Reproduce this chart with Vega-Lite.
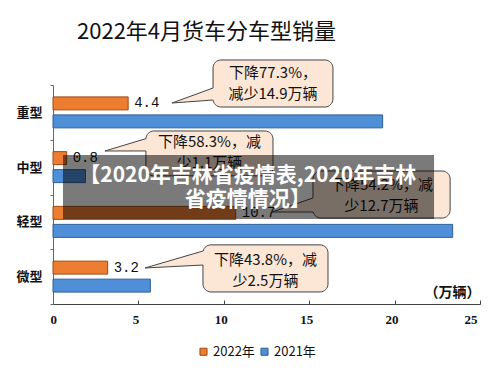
{
  "$schema": "https://vega.github.io/schema/vega-lite/v6.json",
  "autosize": "none",
  "width": 427,
  "height": 219,
  "padding": {"left": 53, "top": 85, "right": 20, "bottom": 70},
  "background": "white",
  "title": {"text": "2022年4月货车分车型销量", "anchor": "start", "frame": "group", "dx": 24, "offset": 15, "font": "Noto Sans CJK SC", "fontSize": 22, "fontWeight": "normal", "color": "#111"},
  "datasets": {
    "bars": [
      {"cat": "重型", "year": "2022年", "value": 4.4},
      {"cat": "重型", "year": "2021年", "value": 19.3},
      {"cat": "中型", "year": "2022年", "value": 0.8},
      {"cat": "中型", "year": "2021年", "value": 1.9},
      {"cat": "轻型", "year": "2022年", "value": 10.7},
      {"cat": "轻型", "year": "2021年", "value": 23.4},
      {"cat": "微型", "year": "2022年", "value": 3.2},
      {"cat": "微型", "year": "2021年", "value": 5.7}
    ],
    "bubbles": [
      {"id": 1, "x1": 9.37, "x2": 16.39, "y1": -0.457, "y2": 0.402, "tx": 12.88, "ty": -0.219, "label": "下降77.3%，\n减少14.9万辆"},
      {"id": 2, "x1": 5.44, "x2": 12.88, "y1": 0.84, "y2": 1.66, "tx": 9.16, "ty": 1.041, "label": "下降58.3%，减\n少1.1万辆"},
      {"id": 3, "x1": 15.22, "x2": 23.25, "y1": 1.571, "y2": 2.43, "tx": 19.23, "ty": 1.826, "label": "下降54.2%，减\n少12.7万辆"},
      {"id": 4, "x1": 8.78, "x2": 16.10, "y1": 2.92, "y2": 3.78, "tx": 12.44, "ty": 3.196, "label": "下降43.8%，减\n少2.5万辆"}
    ],
    "wedges": [
      {"id": 1, "x": 6.97, "ya": 0.329, "yb": 0.329},
      {"id": 1, "x": 9.37, "ya": 0.055, "yb": 0.274},
      {"id": 1, "x": 9.52, "ya": 0.055, "yb": 0.274},
      {"id": 2, "x": 3.04, "ya": 1.205, "yb": 1.205},
      {"id": 2, "x": 5.44, "ya": 0.98, "yb": 1.205},
      {"id": 2, "x": 5.59, "ya": 0.98, "yb": 1.205},
      {"id": 3, "x": 12.82, "ya": 2.32, "yb": 2.32},
      {"id": 3, "x": 15.22, "ya": 2.064, "yb": 2.32},
      {"id": 3, "x": 15.37, "ya": 2.064, "yb": 2.32},
      {"id": 4, "x": 5.39, "ya": 3.342, "yb": 3.342},
      {"id": 4, "x": 8.78, "ya": 3.032, "yb": 3.288},
      {"id": 4, "x": 8.93, "ya": 3.032, "yb": 3.288}
    ],
    "pointers": [
      {"x1": 6.97, "y1": 0.329, "x2": 9.37, "y2": 0.055},
      {"x1": 6.97, "y1": 0.329, "x2": 9.37, "y2": 0.274},
      {"x1": 3.04, "y1": 1.205, "x2": 5.44, "y2": 0.98},
      {"x1": 3.04, "y1": 1.205, "x2": 5.44, "y2": 1.205},
      {"x1": 12.82, "y1": 2.32, "x2": 15.22, "y2": 2.064},
      {"x1": 12.82, "y1": 2.32, "x2": 15.22, "y2": 2.32},
      {"x1": 5.39, "y1": 3.342, "x2": 8.78, "y2": 3.032},
      {"x1": 5.39, "y1": 3.342, "x2": 8.78, "y2": 3.288}
    ],
    "banner": [
      {"x1": 0.585, "x2": 22.31, "y1": 1.279, "y2": 2.447, "tx": 11.4, "ty": 1.66, "label": "【2020年吉林省疫情表,2020年吉林\n省疫情情况】"}
    ],
    "unit": [
      {"x": 23.39, "y": 3.8, "label": "（万辆）"}
    ]
  },
  "resolve": {"scale": {"y": "independent"}},
  "layer": [
    {
      "data": {"name": "bars"},
      "mark": {"type": "bar", "strokeWidth": 1},
      "encoding": {
        "y": {"field": "cat", "type": "nominal", "sort": ["重型", "中型", "轻型", "微型"], "scale": {"paddingInner": 0, "paddingOuter": 0},
          "axis": {"title": null, "tickBand": "extent", "labelFont": "Noto Sans CJK SC", "labelFontWeight": "bold", "labelFontSize": 13, "labelColor": "#111", "labelPadding": 8, "tickSize": 3, "domainColor": "#666", "tickColor": "#666"}},
        "yOffset": {"field": "year", "type": "nominal", "sort": ["2022年", "2021年"], "scale": {"paddingInner": 0.278, "paddingOuter": 0.66}},
        "x": {"field": "value", "type": "quantitative", "scale": {"domain": [0, 25], "nice": false},
          "axis": {"title": null, "values": [0, 5, 10, 15, 20, 25], "grid": false, "labelFont": "Liberation Serif", "labelFontWeight": "bold", "labelFontSize": 13, "labelColor": "#111", "labelOffset": -3, "tickSize": -4, "labelPadding": 13, "domainColor": "#444", "tickColor": "#444"}},
        "color": {"field": "year", "type": "nominal", "scale": {"domain": ["2022年", "2021年"], "range": ["#ED7D31", "#4E8FD8"]},
          "legend": {"orient": "none", "legendX": 144, "legendY": 260, "direction": "horizontal", "title": null, "symbolType": "square", "symbolSize": 50, "symbolStrokeWidth": 1, "symbolStrokeColor": "#666", "labelFont": "Noto Sans CJK SC", "labelFontSize": 13, "labelColor": "#111", "labelOffset": 3, "columnPadding": 3}},
        "stroke": {"field": "year", "type": "nominal", "scale": {"domain": ["2022年", "2021年"], "range": ["#9C4A12", "#2F5F94"]}, "legend": null}
      }
    },
    {
      "data": {"name": "bars"},
      "transform": [{"filter": "datum.year == '2022年'"}],
      "mark": {"type": "text", "align": "left", "baseline": "middle", "dx": 6, "font": "Liberation Mono", "fontSize": 14, "color": "#111"},
      "encoding": {
        "y": {"field": "cat", "type": "nominal", "sort": ["重型", "中型", "轻型", "微型"], "scale": {"paddingInner": 0, "paddingOuter": 0}, "axis": null},
        "yOffset": {"field": "year", "type": "nominal", "sort": ["2022年", "2021年"], "scale": {"domain": ["2022年", "2021年"], "paddingInner": 0.278, "paddingOuter": 0.66}},
        "x": {"field": "value", "type": "quantitative", "scale": {"domain": [0, 25], "nice": false}},
        "text": {"field": "value", "type": "quantitative", "format": ".1f"}
      }
    },
    {
      "data": {"name": "bubbles"},
      "mark": {"type": "rect", "cornerRadius": 8, "fill": "#FCE7D6", "stroke": "#444", "strokeWidth": 1},
      "encoding": {
        "x": {"field": "x1", "type": "quantitative", "scale": {"domain": [0, 25], "nice": false}},
        "x2": {"field": "x2"},
        "y": {"field": "y1", "type": "quantitative", "scale": {"domain": [0, 4], "reverse": true, "nice": false, "zero": false}, "axis": null},
        "y2": {"field": "y2"}
      }
    },
    {
      "data": {"name": "wedges"},
      "mark": {"type": "area", "fill": "#FCE7D6", "opacity": 1},
      "encoding": {
        "x": {"field": "x", "type": "quantitative", "scale": {"domain": [0, 25], "nice": false}},
        "y": {"field": "ya", "type": "quantitative", "scale": {"domain": [0, 4], "reverse": true, "nice": false, "zero": false}, "axis": null},
        "y2": {"field": "yb"},
        "detail": {"field": "id", "type": "nominal"}
      }
    },
    {
      "data": {"name": "pointers"},
      "mark": {"type": "rule", "stroke": "#444", "strokeWidth": 1},
      "encoding": {
        "x": {"field": "x1", "type": "quantitative", "scale": {"domain": [0, 25], "nice": false}},
        "x2": {"field": "x2"},
        "y": {"field": "y1", "type": "quantitative", "scale": {"domain": [0, 4], "reverse": true, "nice": false, "zero": false}, "axis": null},
        "y2": {"field": "y2"}
      }
    },
    {
      "data": {"name": "bubbles"},
      "mark": {"type": "text", "align": "center", "baseline": "middle", "lineBreak": "\n", "lineHeight": 21, "font": "Noto Sans CJK SC", "fontSize": 15, "color": "#111"},
      "encoding": {
        "x": {"field": "tx", "type": "quantitative", "scale": {"domain": [0, 25], "nice": false}},
        "y": {"field": "ty", "type": "quantitative", "scale": {"domain": [0, 4], "reverse": true, "nice": false, "zero": false}, "axis": null},
        "text": {"field": "label", "type": "nominal"}
      }
    },
    {
      "data": {"name": "unit"},
      "mark": {"type": "text", "align": "center", "baseline": "middle", "font": "Noto Sans CJK SC", "fontSize": 14, "fontWeight": "bold", "color": "#111"},
      "encoding": {
        "x": {"field": "x", "type": "quantitative", "scale": {"domain": [0, 25], "nice": false}},
        "y": {"field": "y", "type": "quantitative", "scale": {"domain": [0, 4], "reverse": true, "nice": false, "zero": false}, "axis": null},
        "text": {"field": "label", "type": "nominal"}
      }
    },
    {
      "data": {"name": "banner"},
      "mark": {"type": "rect", "fill": "#000", "fillOpacity": 0.52},
      "encoding": {
        "x": {"field": "x1", "type": "quantitative", "scale": {"domain": [0, 25], "nice": false}},
        "x2": {"field": "x2"},
        "y": {"field": "y1", "type": "quantitative", "scale": {"domain": [0, 4], "reverse": true, "nice": false, "zero": false}, "axis": null},
        "y2": {"field": "y2"}
      }
    },
    {
      "data": {"name": "banner"},
      "mark": {"type": "text", "align": "center", "baseline": "middle", "lineBreak": "\n", "lineHeight": 24, "font": "Noto Sans CJK SC", "fontSize": 21, "fontWeight": "bold", "color": "#fff"},
      "encoding": {
        "x": {"field": "tx", "type": "quantitative", "scale": {"domain": [0, 25], "nice": false}},
        "y": {"field": "ty", "type": "quantitative", "scale": {"domain": [0, 4], "reverse": true, "nice": false, "zero": false}, "axis": null},
        "text": {"field": "label", "type": "nominal"}
      }
    }
  ],
  "config": {"view": {"stroke": null}}
}
